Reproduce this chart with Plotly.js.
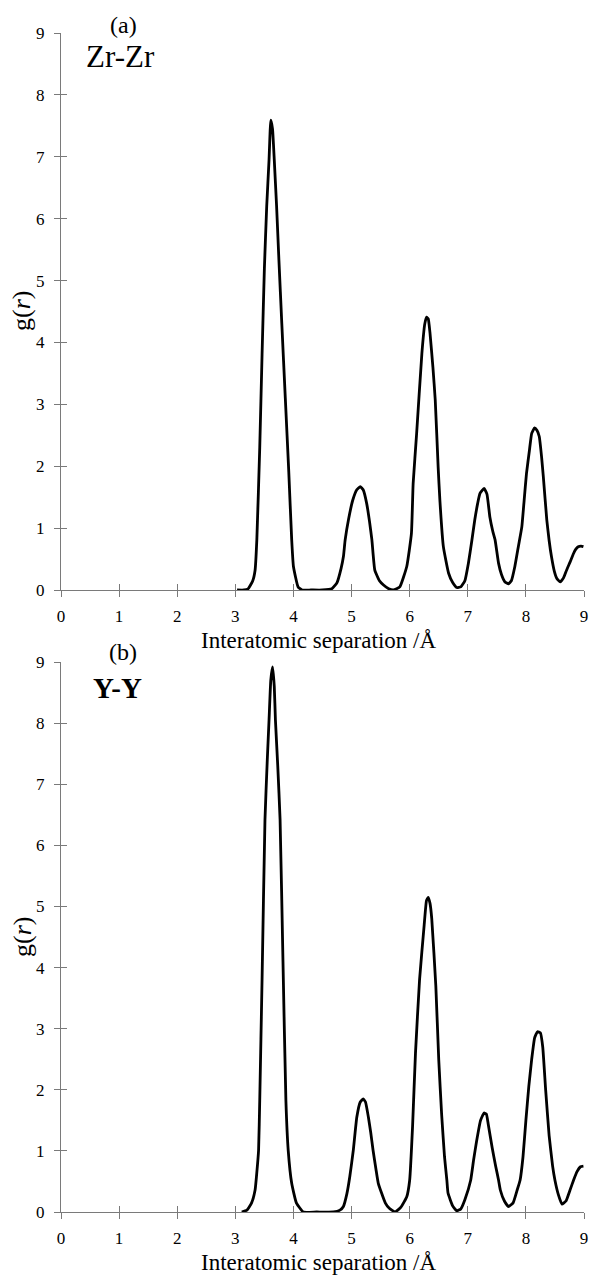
<!DOCTYPE html>
<html>
<head>
<meta charset="utf-8">
<script src="https://cdn.plot.ly/plotly-3.0.1.min.js"></script>
<style>html,body{margin:0;padding:0;background:#fff;}#chart{width:591px;height:1275px;}</style>
</head>
<body>
<div id="chart"></div>
<script>
// Zr-Zr radial distribution function (panel a)
const zrR = [3.03,3.15,3.22,3.30,3.34,3.37,3.42,3.46,3.50,3.54,3.58,3.61,3.64,3.67,3.71,3.75,3.80,3.86,3.92,3.97,4.00,4.08,4.15,4.30,4.50,4.66,4.75,4.82,4.86,4.89,4.95,5.02,5.09,5.15,5.20,5.26,5.31,5.35,5.40,5.48,5.55,5.64,5.72,5.83,5.95,6.03,6.06,6.12,6.21,6.26,6.29,6.32,6.35,6.40,6.44,6.49,6.52,6.58,6.67,6.74,6.81,6.88,6.95,7.01,7.07,7.12,7.17,7.21,7.28,7.33,7.38,7.43,7.47,7.53,7.58,7.64,7.70,7.75,7.81,7.87,7.93,7.97,8.01,8.06,8.10,8.15,8.19,8.23,8.27,8.30,8.36,8.40,8.44,8.49,8.53,8.59,8.65,8.70,8.76,8.82,8.86,8.90,8.95,8.99];
const zrG = [0,0,0.02,0.15,0.32,0.81,2.3,3.8,5.2,6.2,6.95,7.59,7.45,6.95,6.2,5.33,4.3,3.1,1.9,0.81,0.38,0.05,0,0,0,0.02,0.12,0.35,0.54,0.81,1.15,1.45,1.62,1.67,1.62,1.4,1.1,0.81,0.32,0.15,0.08,0.02,0,0.05,0.38,0.91,1.72,2.53,3.82,4.3,4.41,4.38,4.15,3.6,3.07,1.99,1.45,0.70,0.27,0.12,0.04,0.05,0.15,0.43,0.80,1.13,1.40,1.56,1.64,1.55,1.18,0.95,0.81,0.43,0.25,0.13,0.10,0.15,0.38,0.70,1.02,1.45,1.88,2.25,2.53,2.62,2.58,2.48,2.15,1.83,1.13,0.80,0.54,0.30,0.19,0.13,0.2,0.32,0.45,0.59,0.66,0.70,0.71,0.70];

// Y-Y radial distribution function (panel b)
const yyR = [3.11,3.20,3.28,3.34,3.37,3.40,3.42,3.46,3.51,3.55,3.58,3.61,3.64,3.67,3.69,3.73,3.77,3.82,3.87,3.91,3.97,4.05,4.17,4.40,4.69,4.80,4.86,4.92,4.97,5.03,5.09,5.15,5.20,5.24,5.29,5.33,5.37,5.42,5.46,5.58,5.65,5.75,5.85,5.95,6.00,6.05,6.10,6.17,6.25,6.29,6.32,6.35,6.38,6.45,6.50,6.55,6.60,6.64,6.66,6.74,6.81,6.88,6.95,7.05,7.10,7.15,7.22,7.28,7.32,7.35,7.42,7.48,7.53,7.56,7.63,7.70,7.78,7.85,7.90,7.95,8.00,8.05,8.10,8.15,8.20,8.25,8.29,8.34,8.40,8.46,8.50,8.56,8.62,8.69,8.76,8.82,8.88,8.94,8.99];
const yyG = [0,0.03,0.15,0.36,0.65,1.01,1.83,3.8,6.42,7.4,8.05,8.7,8.92,8.6,8.05,7.3,6.42,4.1,1.83,1.01,0.47,0.15,0,0,0,0.03,0.09,0.3,0.58,1.01,1.55,1.8,1.85,1.8,1.55,1.3,1.01,0.7,0.47,0.15,0.06,0,0.08,0.25,0.52,1.4,2.6,3.8,4.7,5.1,5.15,5.05,4.8,3.7,2.5,1.6,0.9,0.52,0.31,0.1,0.02,0.05,0.2,0.52,0.85,1.15,1.5,1.62,1.6,1.45,1.05,0.75,0.52,0.36,0.18,0.09,0.15,0.36,0.52,0.9,1.5,2.05,2.5,2.85,2.95,2.93,2.7,2.0,1.25,0.75,0.52,0.28,0.13,0.18,0.36,0.52,0.66,0.74,0.75];

const tickVals = [0,1,2,3,4,5,6,7,8,9];
const tickText = ['0','1','2','3','4','5','6','7','8','9'];
const panelLetters = ['(a)','(b)'];
const panelNames = ['Zr-Zr','<b>Y-Y</b>'];
const xTitle = 'Interatomic separation /Å';
const yTitle = 'g(<i>r</i>)';

const serif = 'Liberation Serif, Times New Roman, serif';
const lineStyle = {color:'#000', width:2.8, shape:'spline', smoothing:0.4};

const traces = [
  {x: zrR, y: zrG, xaxis:'x', yaxis:'y', mode:'lines', line: lineStyle, hoverinfo:'skip'},
  {x: yyR, y: yyG, xaxis:'x2', yaxis:'y2', mode:'lines', line: lineStyle, hoverinfo:'skip'},
  // empty traces to host the inner tick marks (cross ticks)
  {x: [], y: [], xaxis:'x3', yaxis:'y3', mode:'lines', hoverinfo:'skip'},
  {x: [], y: [], xaxis:'x4', yaxis:'y4', mode:'lines', hoverinfo:'skip'}
];

const axisColor = '#7a7a7a';
function mainAxis(extra){
  return Object.assign({
    range:[0,9], tickvals: tickVals, ticktext: tickText,
    showline:true, linecolor:axisColor, linewidth:1,
    ticks:'outside', ticklen:6, tickwidth:1, tickcolor:axisColor,
    showgrid:false, zeroline:false, fixedrange:true,
    tickfont:{family:serif, size:17, color:'#000'}
  }, extra);
}
function innerAxis(extra){
  return Object.assign({
    range:[0,9], tickvals: tickVals, showticklabels:false,
    showline:false, ticks:'inside', ticklen:6, tickwidth:1, tickcolor:axisColor,
    showgrid:false, zeroline:false, fixedrange:true
  }, extra);
}

const topDom = [1-590/1275, 1-33/1275];
const botDom = [1-1212/1275, 1-662/1275];

const layout = {
  width:591, height:1275,
  margin:{l:61, r:7, t:0, b:0},
  paper_bgcolor:'#fff', plot_bgcolor:'rgba(0,0,0,0)',
  showlegend:false,
  xaxis: mainAxis({domain:[0,1], anchor:'y', ticklabelstandoff:5}),
  yaxis: mainAxis({domain:topDom, anchor:'x', ticklabelstandoff:6}),
  xaxis2: mainAxis({domain:[0,1], anchor:'y2', ticklabelstandoff:5}),
  yaxis2: mainAxis({domain:botDom, anchor:'x2', ticklabelstandoff:6}),
  xaxis3: innerAxis({domain:[0,1], anchor:'y3'}),
  yaxis3: innerAxis({domain:topDom, anchor:'x3'}),
  xaxis4: innerAxis({domain:[0,1], anchor:'y4'}),
  yaxis4: innerAxis({domain:botDom, anchor:'x4'}),
  annotations: [
    {text: panelLetters[0], xref:'paper', yref:'paper', x:(123-61)/523, y:1-25/1275, xanchor:'center', yanchor:'middle', showarrow:false, font:{family:serif, size:24, color:'#000'}},
    {text: panelNames[0], xref:'paper', yref:'paper', x:(120-61)/523, y:1-57/1275, xanchor:'center', yanchor:'middle', showarrow:false, font:{family:serif, size:31, color:'#000'}},
    {text: panelLetters[1], xref:'paper', yref:'paper', x:(123-61)/523, y:1-652/1275, xanchor:'center', yanchor:'middle', showarrow:false, font:{family:serif, size:24, color:'#000'}},
    {text: panelNames[1], xref:'paper', yref:'paper', x:(117-61)/523, y:1-688/1275, xanchor:'center', yanchor:'middle', showarrow:false, font:{family:serif, size:29, color:'#000'}},
    {text: xTitle, xref:'paper', yref:'paper', x:(318-61)/523, y:1-641/1275, xanchor:'center', yanchor:'middle', showarrow:false, font:{family:serif, size:23, color:'#000'}},
    {text: xTitle, xref:'paper', yref:'paper', x:(318-61)/523, y:1-1262/1275, xanchor:'center', yanchor:'middle', showarrow:false, font:{family:serif, size:23, color:'#000'}},
    {text: yTitle, xref:'paper', yref:'paper', x:(22-61)/523, y:1-311/1275, xanchor:'center', yanchor:'middle', textangle:-90, showarrow:false, font:{family:serif, size:26, color:'#000'}},
    {text: yTitle, xref:'paper', yref:'paper', x:(22-61)/523, y:1-937/1275, xanchor:'center', yanchor:'middle', textangle:-90, showarrow:false, font:{family:serif, size:26, color:'#000'}}
  ]
};

Plotly.newPlot('chart', traces, layout, {staticPlot:true, displayModeBar:false});
</script>
</body>
</html>
